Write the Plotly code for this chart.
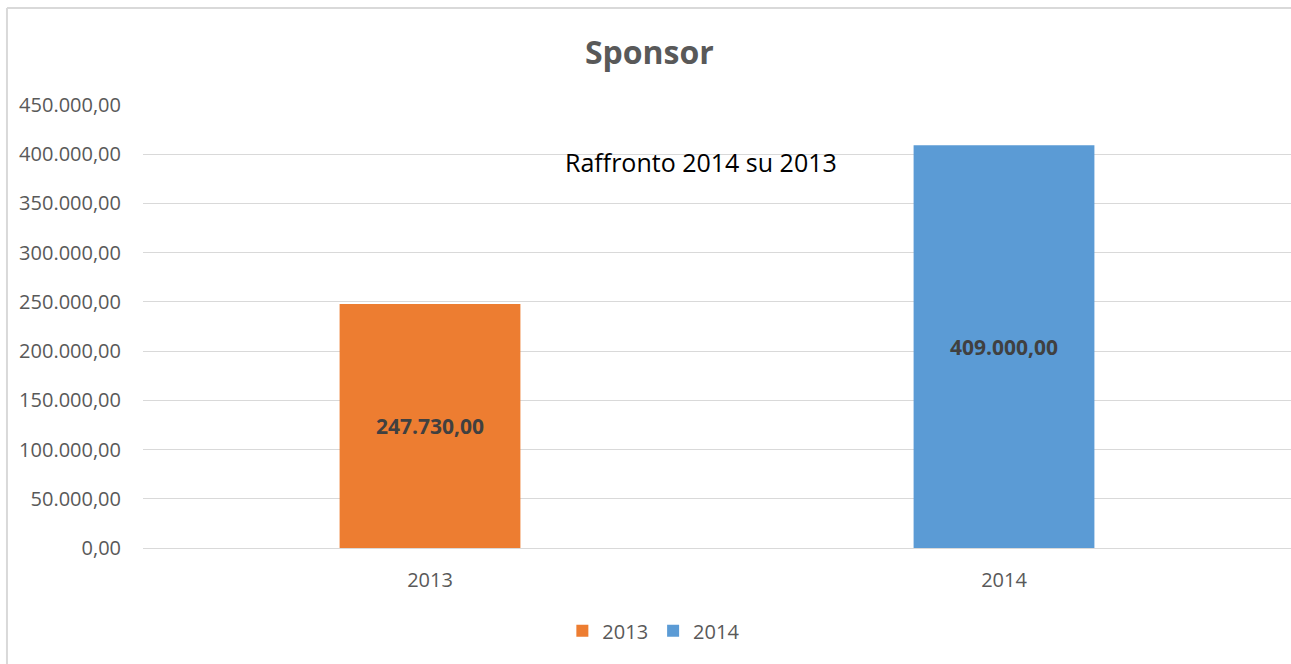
import plotly.graph_objects as go

# Data
years = ["2013", "2014"]
values = [247730, 409000]
colors = ["#ED7D31", "#5B9BD5"]
y_ticks = [0, 50000, 100000, 150000, 200000, 250000, 300000, 350000, 400000, 450000]

fig = go.Figure()
for yr, val, col in zip(years, values, colors):
    fig.add_trace(go.Bar(
        x=[yr], y=[val], name=yr,
        marker=dict(color=col, line=dict(width=0)),
        texttemplate="%{y:,.2f}",
        textposition="inside",
        insidetextanchor="middle",
        textfont=dict(family="Open Sans", size=21, color="#404040", weight="bold"),
        hoverinfo="x+y",
    ))

# light frame of the chart area (as in the Excel export)
frame = dict(color="#d9d9d9", width=2)
fig.add_shape(type="line", xref="paper", yref="paper", x0=-0.1185, x1=1.01, y0=1.219, y1=1.219, line=frame)
fig.add_shape(type="line", xref="paper", yref="paper", x0=-0.1185, x1=-0.1185, y0=1.219, y1=-0.27, line=frame)

fig.add_annotation(
    text="Raffronto 2014 su 2013", xref="paper", yref="paper",
    x=0.486, y=0.871, xanchor="center", yanchor="middle", showarrow=False,
    font=dict(family="Open Sans", size=25, color="#000000"),
)

fig.update_layout(
    width=1291, height=664,
    margin=dict(l=143, r=0, t=105, b=116),
    paper_bgcolor="white", plot_bgcolor="white",
    separators=",.",
    barmode="overlay",
    bargap=0.685,
    title=dict(text="<b>Sponsor</b>", x=0.503, xanchor="center", y=0.92, yanchor="middle",
               font=dict(family="Open Sans", size=32, color="#595959")),
    font=dict(family="Open Sans", color="#595959"),
    showlegend=True,
    legend=dict(orientation="h", x=0.445, xanchor="center", y=-0.187, yanchor="middle",
                font=dict(size=20, color="#595959"), itemwidth=30, traceorder="normal"),
    yaxis=dict(range=[0, 450000], tickvals=y_ticks, tickformat=",.2f",
               showgrid=True, gridcolor="#d9d9d9", gridwidth=1,
               zeroline=True, zerolinecolor="#d9d9d9", zerolinewidth=1,
               showline=False, ticks="", ticklabelstandoff=21,
               tickfont=dict(size=20, color="#595959")),
    xaxis=dict(type="category", showline=False, showgrid=False, ticks="",
               ticklabelstandoff=18, tickfont=dict(size=20, color="#595959")),
)

fig.write_html("out.html", config={"displayModeBar": False},
               post_script="document.body.style.margin='0px';")
